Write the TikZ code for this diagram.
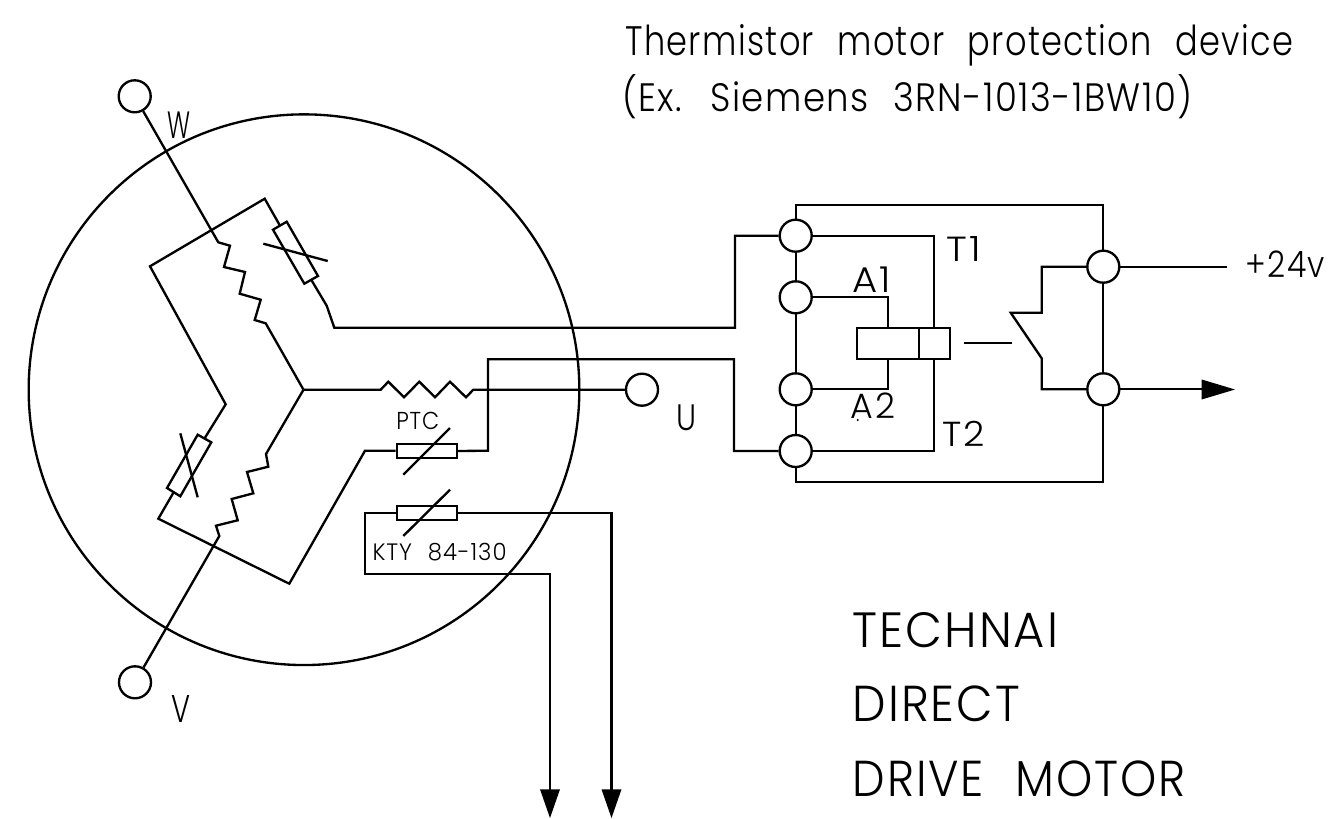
\documentclass[tikz,border=0pt]{standalone}
\usepackage{fontspec}
\usepackage{graphicx}
\newfontfamily\cad{Poppins}[UprightFont=* Light,WordSpace=2.2,LetterSpace=4]
\tikzset{
  x=0.75pt,y=-0.75pt,
  wire/.style={line width=1.75pt,line join=miter,black},
  term/.style={circle,draw,line width=1.75pt,fill=white,minimum size=24pt,inner sep=0pt},
  part/.style={draw,line width=1.75pt,fill=white},
  tip/.style={fill=black,draw=none},
  lbl/.style={inner sep=0pt,anchor=base west,font=\cad\fontsize{20}{20}\selectfont}
}
\newcommand{\cadtxt}[6]{\node[lbl] (#1) at (#2,#3) {\resizebox{\dimexpr #4pt*3/4\relax}{\dimexpr #5pt*3/4\relax}{#6}};}
\begin{document}
\begin{tikzpicture}
\useasboundingbox (0,0) rectangle (1331,818);
% motor
\node[circle,draw,line width=1.75pt,minimum size=413pt,inner sep=0pt] (motor) at (304,389.7) {};
\coordinate (star) at (303.5,389.7);
% terminals
\node[term] (W) at (134.7,96.3) {};
\node[term] (V) at (135,682.3) {};
\node[term] (U) at (642,389.7) {};
\node[term] (L1) at (795.7,235.7) {};
\node[term] (L2) at (795.7,297.3) {};
\node[term] (L3) at (795.7,389.3) {};
\node[term] (L4) at (795.7,451) {};
\node[term] (R1) at (1103.3,266.7) {};
\node[term] (R2) at (1103.3,389.3) {};
% windings
\draw[wire] (W) -- (218.3,242.3) -- (230,245.7) -- (224,267) -- (245,272) -- (239.7,293.7) -- (260.7,299.7) -- (254.7,320) -- (265.7,323.3) -- (star);
\draw[wire] (V) -- (219.3,536) -- (216,525.7) -- (237.7,520.3) -- (231.7,499) -- (253.3,493.3) -- (247,472) -- (268.3,466.7) -- (266,454) -- (star);
\draw[wire] (star) -- (380.7,389.7) -- (388.3,381.7) -- (404,397.3) -- (419.3,381.7) -- (435,397.3) -- (450,381.7) -- (466,397.3) -- (473.3,389.7) -- (U);
% PTC chain in the windings
\coordinate (th1a) at (280,225.7);
\coordinate (th1b) at (311.2,279.7);
\coordinate (th2a) at (204.5,438.5);
\coordinate (th2b) at (173.7,492.2);
\draw[wire] (th1a) -- (264.7,198.7) -- (150,266.3) -- (225.7,404.3) -- (th2a);
\draw[wire] (th2b) -- (158.3,518.7) -- (289.3,583.7) -- (365,450.7) -- (395.7,450.7);
\draw[wire] (th1b) -- (326.7,305.7) -- (334.3,327.7) -- (735,327.7) -- (735,235.7) -- (L1);
\draw[part] (273,229.7) -- (286.7,221.7) -- (318,276) -- (304.3,283.7) -- cycle;
\draw[wire] (263.3,243.7) -- (327.7,261);
\draw[part] (197.7,434.7) -- (211.3,442.3) -- (180.3,496.3) -- (167,488) -- cycle;
\draw[wire] (180.3,433.3) -- (197.7,497.3);
% PTC and KTY
\node[part,minimum width=45pt,minimum height=10.5pt,inner sep=0pt] (ptc) at (427,451) {};
\node[part,minimum width=45pt,minimum height=10.5pt,inner sep=0pt] (kty) at (427,512.7) {};
\draw[wire] (403.3,474.7) -- (450,428);
\draw[wire] (403.3,536) -- (450,489.7);
\draw[wire] (ptc.east) -- (488,450.7) -- (488,359.3) -- (734,359.3) -- (734,451) -- (L4);
\coordinate (kl) at (550,818);
\coordinate (kr) at (611.5,818);
\draw[wire] (kty.west) -- (365,512.7) -- (365,574.3) -- (550,574.3) -- (550,795);
\draw[wire] (kty.east) -- (611.5,512.7) -- (611.5,795);
\fill[tip] (540,789.3) -- (560,789.3) -- (kl) -- cycle;
\fill[tip] (601.5,789.3) -- (621.5,789.3) -- (kr) -- cycle;
% device
\draw[wire] (L1) -- (L2);
\draw[wire] (L2) -- (L3);
\draw[wire] (L3) -- (L4);
\draw[wire] (L1) -- (795.7,205) -- (1103.3,205) -- (R1);
\draw[wire] (L4) -- (795.7,482) -- (1103.3,482) -- (R2);
\draw[wire] (R1) -- (R2);
\draw[wire] (L1) -- (934,235.7) -- (934,327.7);
\draw[wire] (L4) -- (934,451) -- (934,359.3);
\draw[wire] (L2) -- (888,297.3) -- (888,327.7);
\draw[wire] (L3) -- (888,389.3) -- (888,359.3);
\draw[part] (857,327.7) rectangle (950,359.3);
\draw[wire] (918.7,327.7) -- (918.7,359.3);
\draw[wire] (964.3,343.3) -- (1011.7,343.3);
\draw[wire] (R1) -- (1041.7,266.7) -- (1041.7,312.7) -- (1010.7,312.7) -- (1041.7,358.3) -- (1041.7,389.3) -- (R2);
\coordinate (vp) at (1226.7,266.7);
\coordinate (out) at (1235,389.5);
\draw[wire] (R1) -- (vp);
\draw[wire] (R2) -- (1205,389.3);
\fill[tip] (1201.7,379.5) -- (1201.7,399.5) -- (out) -- cycle;
% texts
\cadtxt{t1}{625}{55}{668}{31}{Thermistor motor protection device}
\cadtxt{t2}{622}{111.7}{570}{37}{(Ex. Siemens 3RN-1013-1BW10)}
\cadtxt{t3}{852.7}{647.3}{205}{35}{TECHNAI}
\cadtxt{t4}{852.7}{721.7}{167}{35.7}{DIRECT}
\cadtxt{t5}{852.7}{796.7}{333}{35.7}{DRIVE MOTOR}
\cadtxt{w}{167.7}{138.3}{23}{26.6}{W}
\cadtxt{v}{171}{722}{19}{27}{V}
\cadtxt{u}{676.7}{430.7}{20}{25.7}{U}
\cadtxt{ptc2}{396}{429}{43}{17.3}{PTC}
\cadtxt{kty2}{372.3}{560}{134}{17.3}{KTY 84-130}
\cadtxt{a}{946.7}{261}{34}{25}{T1}
\cadtxt{b}{852.7}{292.3}{38}{25.6}{A1}
\cadtxt{c}{850.7}{418.3}{44}{25.6}{A2}
\cadtxt{d}{942}{446}{42}{25.3}{T2}
\cadtxt{e}{1245.7}{277.3}{79}{26.6}{+24v}
\fill (857.7,420) circle (0.8pt);
\end{tikzpicture}
\end{document}
